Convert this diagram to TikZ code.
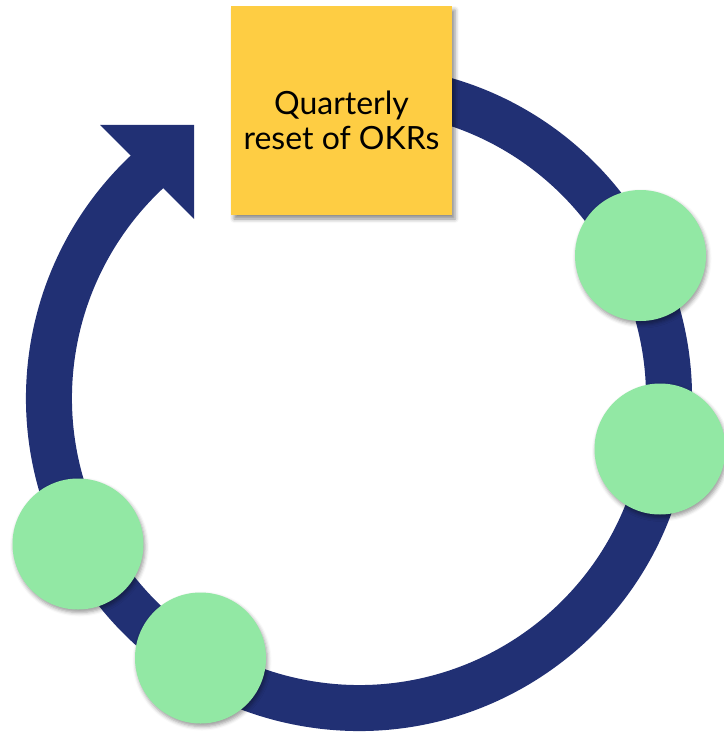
\documentclass[tikz,border=0pt]{standalone}
\usepackage{fontspec}
\setmainfont{Lato}
\usetikzlibrary{shadows.blur}

\definecolor{navy}{HTML}{213074}
\definecolor{cardyellow}{HTML}{FECD43}
\definecolor{stepgreen}{HTML}{92E8A4}

\tikzset{
  cycle/.style={draw=navy, line width=46pt, line cap=butt},
  card/.style={rectangle, fill=cardyellow, minimum width=221pt, minimum height=209pt,
    inner sep=0pt,
    blur shadow={shadow xshift=3pt, shadow yshift=-4pt, shadow blur radius=4pt, shadow opacity=45}},
  cardtext/.style={align=center, inner sep=0pt, text=black,
    font=\fontsize{32}{35}\selectfont},
  stepdot/.style={circle, fill=stepgreen, minimum size=131pt, inner sep=0pt,
    blur shadow={shadow xshift=1.5pt, shadow yshift=-3pt, shadow blur radius=4pt, shadow opacity=40}}
}

\begin{document}
\begin{tikzpicture}[x=1pt, y=1pt]
  \useasboundingbox (0,0) rectangle (723,-733);

  % centre of the cycle ring
  \coordinate (hub) at (359,-398);

  % clockwise ring, starting beneath the card and ending at the arrow head
  \draw[cycle] ([shift={(80:310)}]hub) arc[start angle=80, end angle=-227.5, radius=310];

  % arrow head
  \fill[navy] (100,-125) -- (194,-125) -- (194,-219) -- cycle;

  % quarterly reset card
  \node[card] (reset) at (341.5,-110.5) {};
  \node[cardtext] (resettext) at ([yshift=-9.5pt]reset.center) {Quarterly\\reset of OKRs};

  % steps along the ring
  \node[stepdot] (s1) at (640.5,-255.5) {};
  \node[stepdot] (s2) at (660,-449) {};
  \node[stepdot] (s3) at (78,-544) {};
  \node[stepdot] (s4) at (200.5,-658) {};
\end{tikzpicture}
\end{document}
